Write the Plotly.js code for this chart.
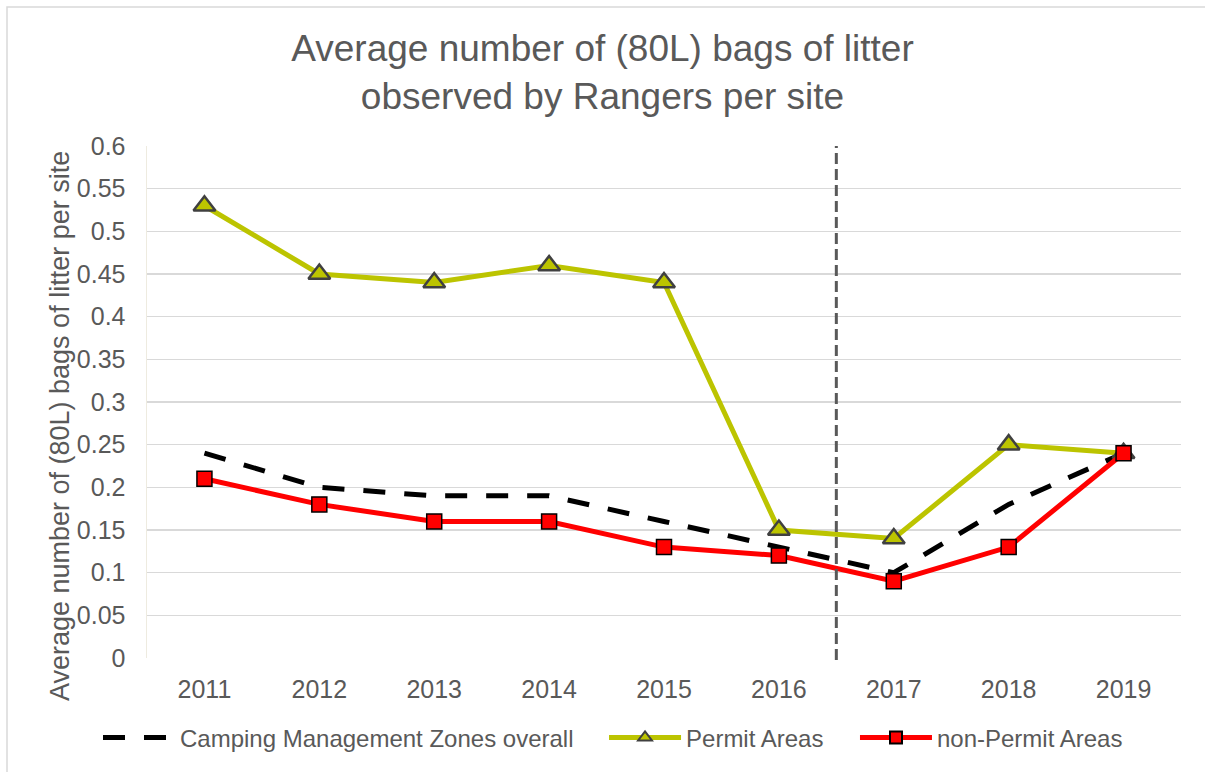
<!DOCTYPE html>
<html>
<head>
<meta charset="utf-8">
<script src="https://cdn.plot.ly/plotly-3.0.1.min.js"></script>
<style>html,body{margin:0;padding:0;background:#fff;}#chart{width:1205px;height:772px;}</style>
</head>
<body>
<div id="chart"></div>
<script>
const years = ['2011','2012','2013','2014','2015','2016','2017','2018','2019'];
const overall = [0.24, 0.20, 0.19, 0.19, 0.16, 0.13, 0.10, 0.18, 0.24];
const permit = [0.53, 0.45, 0.44, 0.46, 0.44, 0.15, 0.14, 0.25, 0.24];
const nonPermit = [0.21, 0.18, 0.16, 0.16, 0.13, 0.12, 0.09, 0.13, 0.24];
const yTicks = [0, 0.05, 0.1, 0.15, 0.2, 0.25, 0.3, 0.35, 0.4, 0.45, 0.5, 0.55, 0.6];
const yTickLabels = ['0','0.05','0.1','0.15','0.2','0.25','0.3','0.35','0.4','0.45','0.5','0.55','0.6'];
const changeBetween = ['2016', '2017'];

const font = 'Liberation Sans, Arial, sans-serif';
const txt = '#595959';

const traces = [
  {x: years, y: overall, name: 'Camping Management Zones overall', type: 'scatter', mode: 'lines',
   legend: 'legend',
   line: {color: '#000000', width: 5, dash: '22px,19px'}},
  {x: years, y: permit, name: 'Permit Areas', type: 'scatter', mode: 'lines+markers',
   legend: 'legend2',
   line: {color: '#bcc400', width: 5},
   marker: {symbol: 'triangle-up', size: 19, color: '#bcc400', line: {color: '#404040', width: 2.5}}},
  {x: years, y: nonPermit, name: 'non-Permit Areas', type: 'scatter', mode: 'lines+markers',
   legend: 'legend3',
   line: {color: '#ff0000', width: 5},
   marker: {symbol: 'square', size: 15, color: '#ff0000', line: {color: '#000000', width: 1.5}}}
];

const xLine = (years.indexOf(changeBetween[0]) + years.indexOf(changeBetween[1])) / 2;

const legBase = {orientation: 'h', xanchor: 'left', y: -0.156, yanchor: 'middle',
  font: {family: font, size: 24, color: txt}, itemwidth: 72, itemsizing: 'constant', bgcolor: 'rgba(0,0,0,0)'};

const layout = {
  width: 1205, height: 772,
  margin: {l: 147, r: 24, t: 146, b: 114},
  paper_bgcolor: '#ffffff', plot_bgcolor: '#ffffff',
  font: {family: font, color: txt, size: 24},
  title: {text: 'Average number of (80L) bags of litter<br>observed by Rangers per site',
          font: {family: font, size: 37, color: txt}, x: 0.5, xanchor: 'center', y: 0.921, yanchor: 'middle'},
  showlegend: true,
  legend: Object.assign({}, legBase, {x: -0.0474}),
  legend2: Object.assign({}, legBase, {x: 0.442}),
  legend3: Object.assign({}, legBase, {x: 0.6847}),
  xaxis: {type: 'category', categoryarray: years, range: [-0.5, years.length - 0.5],
          showgrid: false, zeroline: false, showline: false, ticks: '',
          tickfont: {family: font, size: 25, color: txt}, ticklabelstandoff: 14, fixedrange: true},
  yaxis: {range: [0, 0.6], tickvals: yTicks, ticktext: yTickLabels,
          showgrid: true, gridcolor: '#d9d9d9', gridwidth: 1.5, zeroline: false,
          showline: true, linecolor: '#eeebe0', linewidth: 1.5, ticks: '',
          tickfont: {family: font, size: 25, color: txt}, ticklabelstandoff: 15,
          fixedrange: true},
  annotations: [
    {text: 'Average number of (80L) bags of litter per site', xref: 'paper', yref: 'paper',
     x: -0.0841, y: 0.453, xanchor: 'center', yanchor: 'middle', textangle: -90, showarrow: false,
     font: {family: font, size: 27, color: txt}}
  ],
  shapes: [
    {type: 'line', xref: 'x', yref: 'paper', x0: xLine, x1: xLine, y0: -0.004, y1: 1,
     line: {color: '#595959', width: 3, dash: '11px,5px'}},
    {type: 'rect', xref: 'paper', yref: 'paper', x0: -0.1354, x1: 1.06, y0: -0.25, y1: 1.2715,
     line: {color: '#d9d9d9', width: 1.5}, layer: 'below'}
  ]
};

Plotly.newPlot('chart', traces, layout, {displayModeBar: false, staticPlot: true});
</script>
</body>
</html>
